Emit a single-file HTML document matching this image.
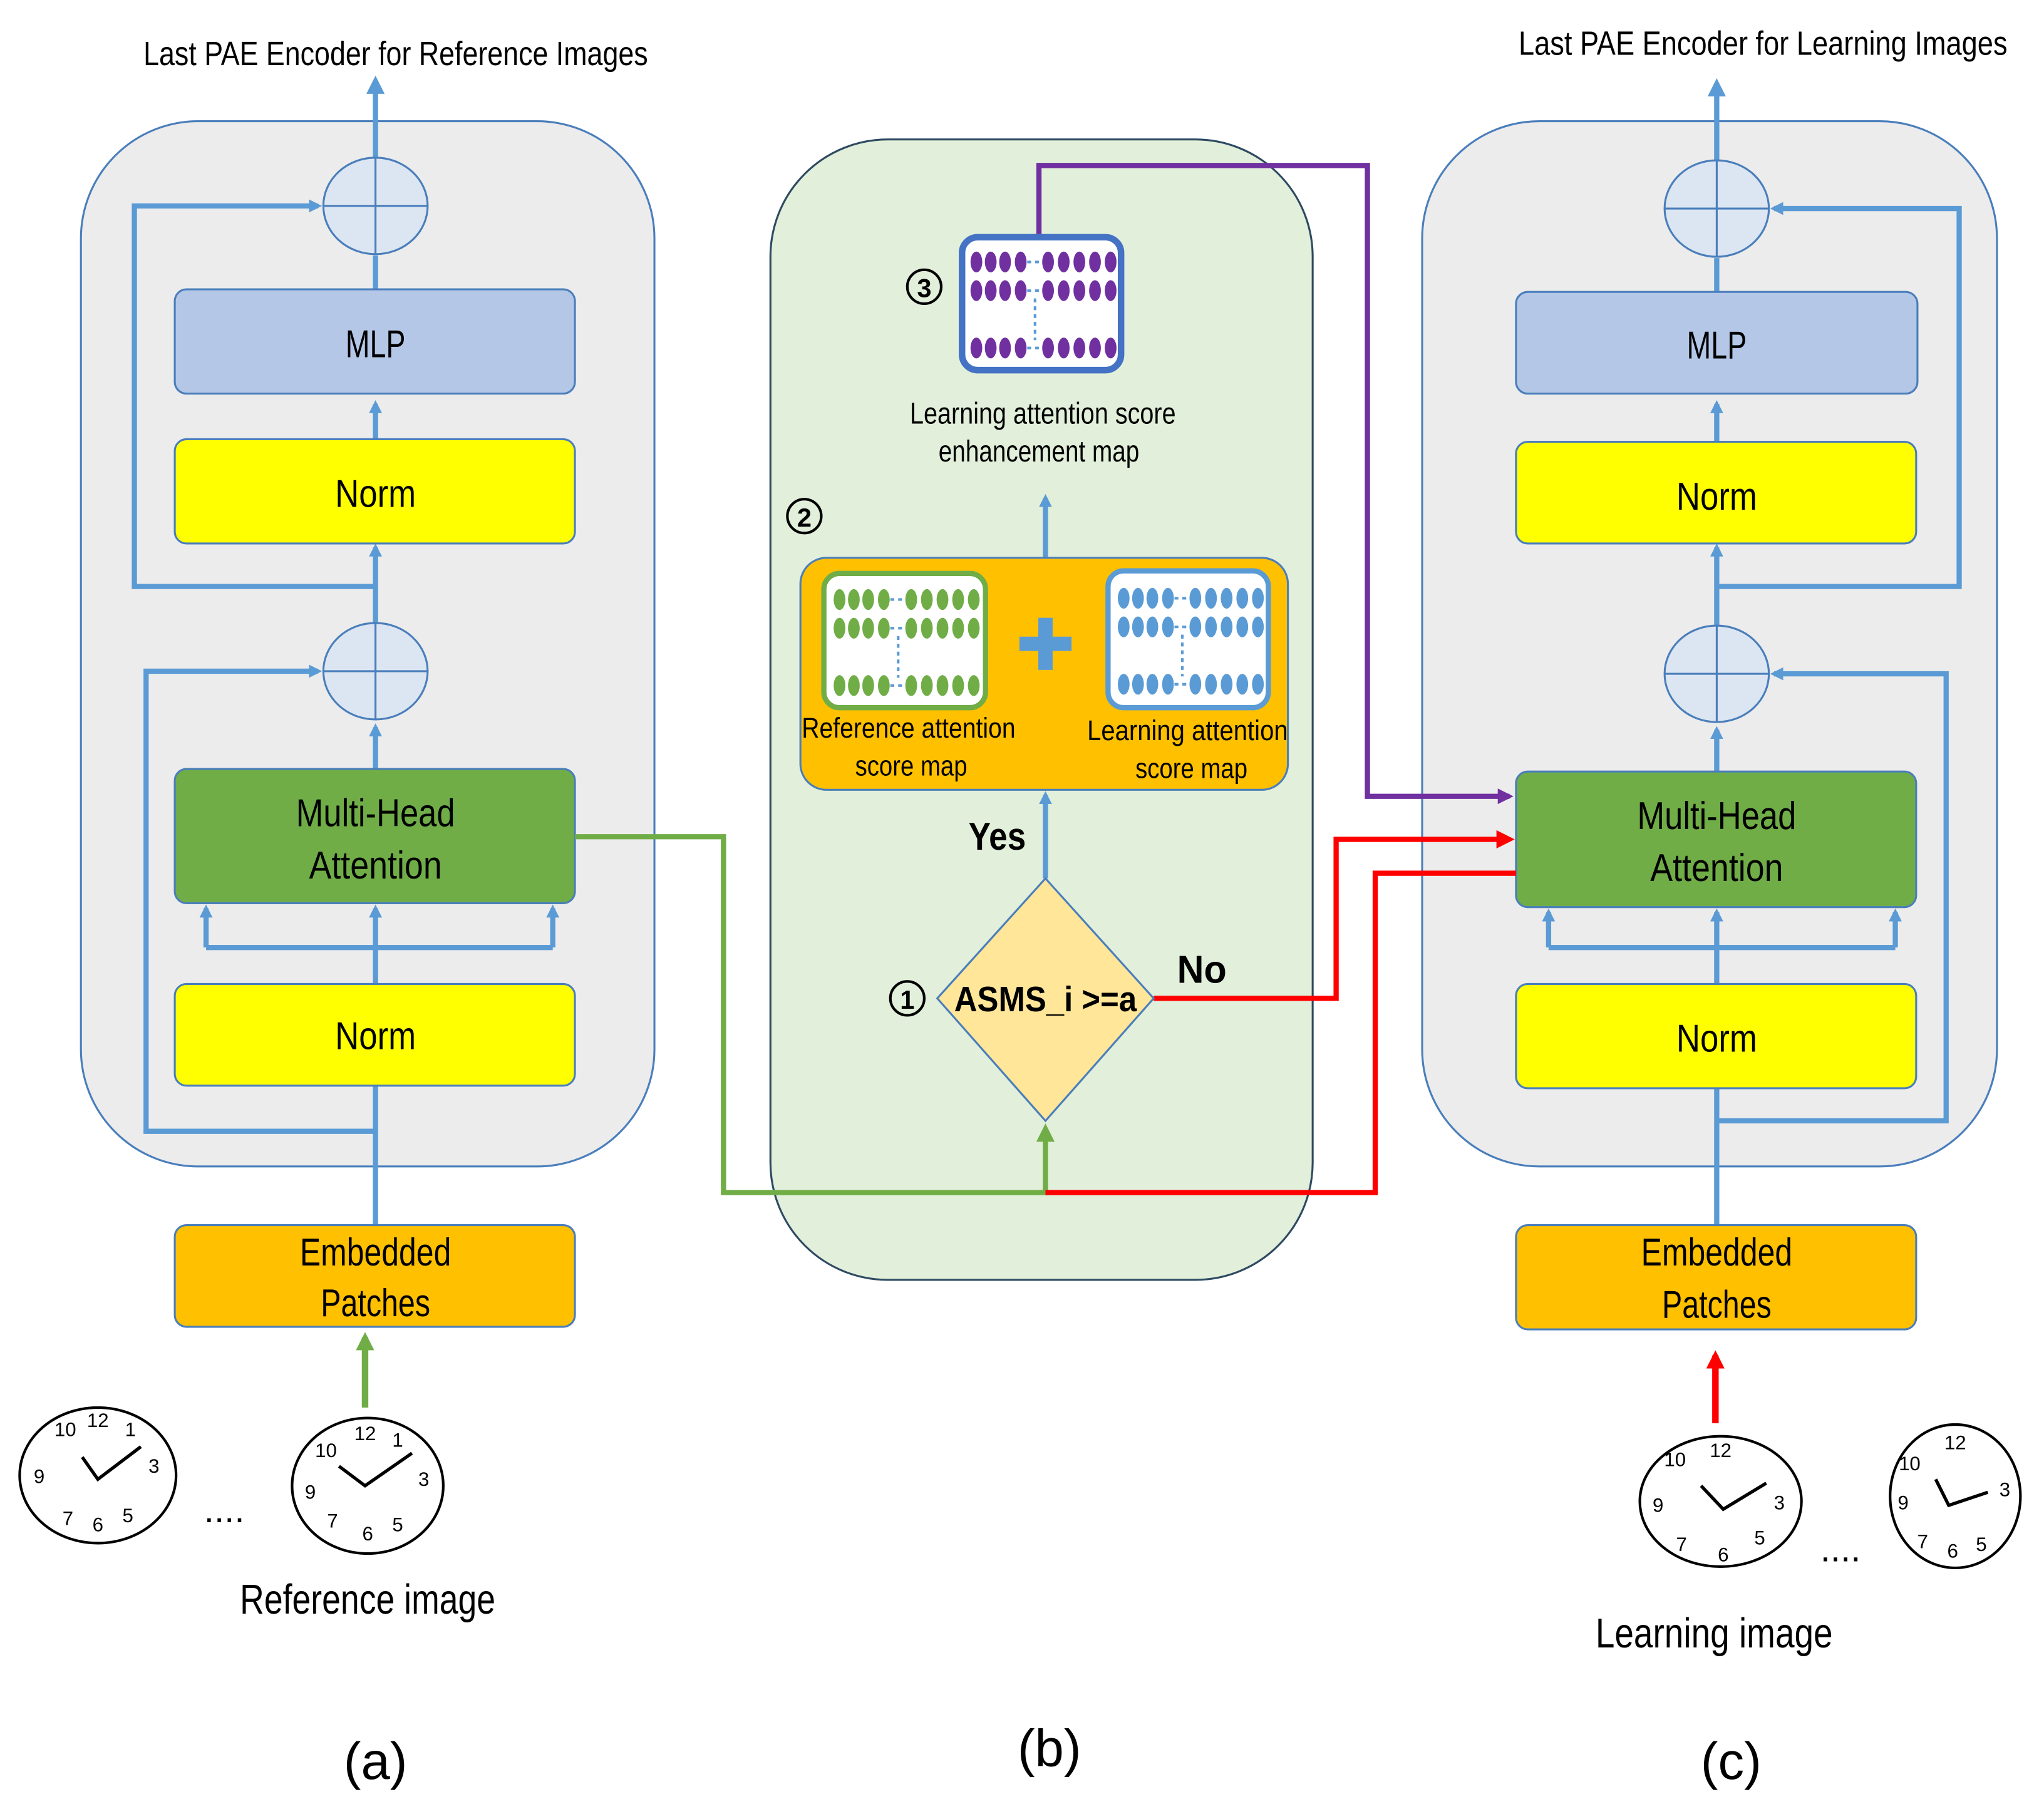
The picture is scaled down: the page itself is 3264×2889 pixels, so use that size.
<!DOCTYPE html>
<html><head><meta charset="utf-8"><style>
html,body{margin:0;padding:0;background:#fff}
svg{display:block}
text{font-family:"Liberation Sans",sans-serif}
</style></head><body>
<svg width="3264" height="2889" viewBox="0 0 1568 1388" xmlns="http://www.w3.org/2000/svg">
<defs>
<marker id="ab" markerWidth="10" markerHeight="10" refX="7" refY="5" orient="auto" markerUnits="userSpaceOnUse"><path d="M0,0 L10,5 L0,10 z" fill="#5b9bd5"/></marker>
<marker id="ab2" markerWidth="14" markerHeight="14" refX="10" refY="7" orient="auto" markerUnits="userSpaceOnUse"><path d="M0,0 L14,7 L0,14 z" fill="#5b9bd5"/></marker>
<marker id="ag" markerWidth="14" markerHeight="14" refX="10" refY="7" orient="auto" markerUnits="userSpaceOnUse"><path d="M0,0 L14,7 L0,14 z" fill="#70ad47"/></marker>
<marker id="ar" markerWidth="14" markerHeight="14" refX="10" refY="7" orient="auto" markerUnits="userSpaceOnUse"><path d="M0,0 L14,7 L0,14 z" fill="#ff0000"/></marker>
<marker id="ap" markerWidth="12" markerHeight="12" refX="9" refY="6" orient="auto" markerUnits="userSpaceOnUse"><path d="M0,0 L12,6 L0,12 z" fill="#7030a0"/></marker>
<symbol id="dots" viewBox="0 0 124 104" width="124" height="104">
<g>
<ellipse cx="12" cy="20" rx="4.5" ry="8"/><ellipse cx="23" cy="20" rx="4.5" ry="8"/><ellipse cx="34" cy="20" rx="4.5" ry="8"/><ellipse cx="46" cy="20" rx="4.5" ry="8"/>
<ellipse cx="67" cy="20" rx="4.5" ry="8"/><ellipse cx="79" cy="20" rx="4.5" ry="8"/><ellipse cx="91" cy="20" rx="4.5" ry="8"/><ellipse cx="103" cy="20" rx="4.5" ry="8"/><ellipse cx="115" cy="20" rx="4.5" ry="8"/>
<ellipse cx="12" cy="42" rx="4.5" ry="8"/><ellipse cx="23" cy="42" rx="4.5" ry="8"/><ellipse cx="34" cy="42" rx="4.5" ry="8"/><ellipse cx="46" cy="42" rx="4.5" ry="8"/>
<ellipse cx="67" cy="42" rx="4.5" ry="8"/><ellipse cx="79" cy="42" rx="4.5" ry="8"/><ellipse cx="91" cy="42" rx="4.5" ry="8"/><ellipse cx="103" cy="42" rx="4.5" ry="8"/><ellipse cx="115" cy="42" rx="4.5" ry="8"/>
<ellipse cx="12" cy="86" rx="4.5" ry="8"/><ellipse cx="23" cy="86" rx="4.5" ry="8"/><ellipse cx="34" cy="86" rx="4.5" ry="8"/><ellipse cx="46" cy="86" rx="4.5" ry="8"/>
<ellipse cx="67" cy="86" rx="4.5" ry="8"/><ellipse cx="79" cy="86" rx="4.5" ry="8"/><ellipse cx="91" cy="86" rx="4.5" ry="8"/><ellipse cx="103" cy="86" rx="4.5" ry="8"/><ellipse cx="115" cy="86" rx="4.5" ry="8"/>
</g>
<g stroke="#5b9bd5" stroke-width="2" stroke-dasharray="3,3"><path d="M51,20 H62 M51,42 H62 M51,86 H62 M57,48 V80"/></g>
</symbol>
</defs>

<rect x="62" y="93" width="440" height="802" rx="90" fill="#ececec" stroke="#4a7ebb" stroke-width="1.5"/>
<rect x="591" y="107" width="416" height="875" rx="90" fill="#e2efda" stroke="#2e4a62" stroke-width="1.5"/>
<rect x="1091" y="93" width="441" height="802" rx="90" fill="#ececec" stroke="#4a7ebb" stroke-width="1.5"/>

<text x="110" y="50" font-size="26" textLength="387" lengthAdjust="spacingAndGlyphs">Last PAE Encoder for Reference Images</text>
<text x="1165" y="42" font-size="26" textLength="375" lengthAdjust="spacingAndGlyphs">Last PAE Encoder for Learning Images</text>

<g fill="none" stroke="#5b9bd5" stroke-width="4">
<path d="M288,122 V62" marker-end="url(#ab2)"/>
<path d="M288,222 V196"/>
<path d="M288,337 V310" marker-end="url(#ab)"/>
<path d="M288,590 V558" marker-end="url(#ab)"/>
<path d="M288,478 V420" marker-end="url(#ab)"/>
<path d="M288,450 H103 V158 H244" marker-end="url(#ab)"/>
<path d="M288,868 H112 V515 H244" marker-end="url(#ab)"/>
<path d="M288,940 V833"/>
<path d="M288,755 V697" marker-end="url(#ab)"/>
<path d="M158,727 H424"/>
<path d="M158,727 V697" marker-end="url(#ab)"/>
<path d="M424,727 V697" marker-end="url(#ab)"/>
</g>
<ellipse cx="288" cy="158" rx="40" ry="37" fill="#dce6f2" stroke="#4a7ebb" stroke-width="1.5"/>
<path d="M248,158 H328 M288,121 V195" stroke="#4a7ebb" stroke-width="1.5"/>
<ellipse cx="288" cy="515" rx="40" ry="37" fill="#dce6f2" stroke="#4a7ebb" stroke-width="1.5"/>
<path d="M248,515 H328 M288,478 V552" stroke="#4a7ebb" stroke-width="1.5"/>
<rect x="134" y="222" width="307" height="80" rx="9" fill="#b4c7e7" stroke="#4a7ebb" stroke-width="1.5"/>
<text x="288" y="274" font-size="30" text-anchor="middle" textLength="46" lengthAdjust="spacingAndGlyphs">MLP</text>
<rect x="134" y="337" width="307" height="80" rx="9" fill="#ffff00" stroke="#4a7ebb" stroke-width="1.5"/>
<text x="288" y="389" font-size="30" text-anchor="middle" textLength="62" lengthAdjust="spacingAndGlyphs">Norm</text>
<rect x="134" y="590" width="307" height="103" rx="9" fill="#70ad47" stroke="#4a7ebb" stroke-width="1.5"/>
<text x="288" y="634" font-size="30" text-anchor="middle" textLength="122" lengthAdjust="spacingAndGlyphs">Multi-Head</text>
<text x="288" y="674" font-size="30" text-anchor="middle" textLength="102" lengthAdjust="spacingAndGlyphs">Attention</text>
<rect x="134" y="755" width="307" height="78" rx="9" fill="#ffff00" stroke="#4a7ebb" stroke-width="1.5"/>
<text x="288" y="805" font-size="30" text-anchor="middle" textLength="62" lengthAdjust="spacingAndGlyphs">Norm</text>
<rect x="134" y="940" width="307" height="78" rx="9" fill="#ffc000" stroke="#4a7ebb" stroke-width="1.5"/>
<text x="288" y="971" font-size="30" text-anchor="middle" textLength="116" lengthAdjust="spacingAndGlyphs">Embedded</text>
<text x="288" y="1010" font-size="30" text-anchor="middle" textLength="84" lengthAdjust="spacingAndGlyphs">Patches</text>

<g fill="none" stroke="#5b9bd5" stroke-width="4">
<path d="M1317,124 V64" marker-end="url(#ab2)"/>
<path d="M1317,224 V198"/>
<path d="M1317,339 V310" marker-end="url(#ab)"/>
<path d="M1317,592 V560" marker-end="url(#ab)"/>
<path d="M1317,480 V420" marker-end="url(#ab)"/>
<path d="M1317,450 H1503 V160 H1361" marker-end="url(#ab)"/>
<path d="M1317,860 H1493 V517 H1361" marker-end="url(#ab)"/>
<path d="M1317,940 V835"/>
<path d="M1317,755 V700" marker-end="url(#ab)"/>
<path d="M1188,727 H1454"/>
<path d="M1188,727 V700" marker-end="url(#ab)"/>
<path d="M1454,727 V700" marker-end="url(#ab)"/>
</g>
<ellipse cx="1317" cy="160" rx="40" ry="37" fill="#dce6f2" stroke="#4a7ebb" stroke-width="1.5"/>
<path d="M1277,160 H1357 M1317,123 V197" stroke="#4a7ebb" stroke-width="1.5"/>
<ellipse cx="1317" cy="517" rx="40" ry="37" fill="#dce6f2" stroke="#4a7ebb" stroke-width="1.5"/>
<path d="M1277,517 H1357 M1317,480 V554" stroke="#4a7ebb" stroke-width="1.5"/>
<rect x="1163" y="224" width="308" height="78" rx="9" fill="#b4c7e7" stroke="#4a7ebb" stroke-width="1.5"/>
<text x="1317" y="275" font-size="30" text-anchor="middle" textLength="46" lengthAdjust="spacingAndGlyphs">MLP</text>
<rect x="1163" y="339" width="307" height="78" rx="9" fill="#ffff00" stroke="#4a7ebb" stroke-width="1.5"/>
<text x="1317" y="391" font-size="30" text-anchor="middle" textLength="62" lengthAdjust="spacingAndGlyphs">Norm</text>
<rect x="1163" y="592" width="307" height="104" rx="9" fill="#70ad47" stroke="#4a7ebb" stroke-width="1.5"/>
<text x="1317" y="636" font-size="30" text-anchor="middle" textLength="122" lengthAdjust="spacingAndGlyphs">Multi-Head</text>
<text x="1317" y="676" font-size="30" text-anchor="middle" textLength="102" lengthAdjust="spacingAndGlyphs">Attention</text>
<rect x="1163" y="755" width="307" height="80" rx="9" fill="#ffff00" stroke="#4a7ebb" stroke-width="1.5"/>
<text x="1317" y="807" font-size="30" text-anchor="middle" textLength="62" lengthAdjust="spacingAndGlyphs">Norm</text>
<rect x="1163" y="940" width="307" height="80" rx="9" fill="#ffc000" stroke="#4a7ebb" stroke-width="1.5"/>
<text x="1317" y="971" font-size="30" text-anchor="middle" textLength="116" lengthAdjust="spacingAndGlyphs">Embedded</text>
<text x="1317" y="1011" font-size="30" text-anchor="middle" textLength="84" lengthAdjust="spacingAndGlyphs">Patches</text>

<g fill="none" stroke-width="4">
<path d="M441,642 H555 V915 H802 V866" stroke="#70ad47" marker-end="url(#ag)"/>
<path d="M802,915 H1055 V670 H1163" stroke="#ff0000"/>
<path d="M885,766 H1025 V644 H1158" stroke="#ff0000" marker-end="url(#ar)"/>
<path d="M797,181 V127 H1049 V611 H1158" stroke="#7030a0" marker-end="url(#ap)"/>
<path d="M802,674 V610" stroke="#5b9bd5" marker-end="url(#ab)"/>
<path d="M802,428 V382" stroke="#5b9bd5" marker-end="url(#ab)"/>
<path d="M280,1080 V1026" stroke="#70ad47" stroke-width="5" marker-end="url(#ag)"/>
<path d="M1316,1092 V1040" stroke="#ff0000" stroke-width="5" marker-end="url(#ar)"/>
</g>
<polygon points="802,674 885,766 802,860 719,766" fill="#ffe699" stroke="#4a7ebb" stroke-width="1.5"/>
<text x="802" y="776" font-size="27" font-weight="bold" text-anchor="middle" textLength="140" lengthAdjust="spacingAndGlyphs">ASMS_i &gt;=a</text>
<circle cx="696" cy="766" r="13" fill="none" stroke="#000" stroke-width="2"/><text x="696" y="774" font-size="20" font-weight="bold" text-anchor="middle">1</text>
<text x="765" y="652" font-size="30" font-weight="bold" text-anchor="middle" textLength="44" lengthAdjust="spacingAndGlyphs">Yes</text>
<text x="922" y="754" font-size="30" font-weight="bold" text-anchor="middle" textLength="38" lengthAdjust="spacingAndGlyphs">No</text>

<rect x="614" y="428" width="374" height="178" rx="20" fill="#ffc000" stroke="#4a7ebb" stroke-width="1.5"/>
<rect x="632" y="440" width="124" height="103" rx="12" fill="#fff" stroke="#70ad47" stroke-width="4"/>
<use href="#dots" x="632" y="440" fill="#70ad47"/>
<rect x="850" y="438" width="123" height="105" rx="12" fill="#fff" stroke="#5b9bd5" stroke-width="4"/>
<use href="#dots" x="850" y="439" fill="#5b9bd5"/>
<path d="M802,474 V514 M782,494 H822" stroke="#5b9bd5" stroke-width="11"/>
<text x="697" y="566" font-size="22" text-anchor="middle" textLength="164" lengthAdjust="spacingAndGlyphs">Reference attention</text>
<text x="699" y="595" font-size="22" text-anchor="middle" textLength="86" lengthAdjust="spacingAndGlyphs">score map</text>
<text x="911" y="568" font-size="22" text-anchor="middle" textLength="154" lengthAdjust="spacingAndGlyphs">Learning attention</text>
<text x="914" y="597" font-size="22" text-anchor="middle" textLength="86" lengthAdjust="spacingAndGlyphs">score map</text>

<circle cx="617" cy="396" r="13" fill="none" stroke="#000" stroke-width="2"/><text x="617" y="404" font-size="20" font-weight="bold" text-anchor="middle">2</text>
<text x="800" y="325" font-size="23" text-anchor="middle" textLength="204" lengthAdjust="spacingAndGlyphs">Learning attention score</text>
<text x="797" y="354" font-size="23" text-anchor="middle" textLength="154" lengthAdjust="spacingAndGlyphs">enhancement map</text>
<circle cx="709" cy="220" r="13" fill="none" stroke="#000" stroke-width="2"/><text x="709" y="228" font-size="20" font-weight="bold" text-anchor="middle">3</text>
<rect x="738" y="182" width="122" height="102" rx="12" fill="#fff" stroke="#4472c4" stroke-width="5"/>
<use href="#dots" x="737" y="181" fill="#7030a0"/>

<g fill="#fff" stroke="#000" stroke-width="2">
<ellipse cx="75" cy="1132" rx="60" ry="52"/>
<ellipse cx="282" cy="1140" rx="58" ry="52"/>
<ellipse cx="1320" cy="1152" rx="62" ry="50"/>
<ellipse cx="1500" cy="1148" rx="50" ry="55"/>
</g>
<g fill="none" stroke="#000" stroke-width="2.5">
<path d="M63,1118 L75,1135 L108,1110"/>
<path d="M260,1125 L280,1140 L316,1115"/>
<path d="M1305,1140 L1322,1158 L1355,1138"/>
<path d="M1485,1135 L1495,1155 L1525,1145"/>
</g>
<g font-size="15" text-anchor="middle" fill="#000">
<text x="75" y="1095">12</text><text x="118" y="1130">3</text><text x="75" y="1175">6</text><text x="30" y="1138">9</text><text x="50" y="1102">10</text><text x="100" y="1102">1</text><text x="98" y="1168">5</text><text x="52" y="1170">7</text>
<text x="280" y="1105">12</text><text x="325" y="1140">3</text><text x="282" y="1182">6</text><text x="238" y="1150">9</text><text x="250" y="1118">10</text><text x="305" y="1110">1</text><text x="305" y="1175">5</text><text x="255" y="1172">7</text>
<text x="1320" y="1118">12</text><text x="1365" y="1158">3</text><text x="1322" y="1198">6</text><text x="1272" y="1160">9</text><text x="1285" y="1125">10</text><text x="1350" y="1185">5</text><text x="1290" y="1190">7</text>
<text x="1500" y="1112">12</text><text x="1538" y="1148">3</text><text x="1498" y="1195">6</text><text x="1460" y="1158">9</text><text x="1465" y="1128">10</text><text x="1520" y="1190">5</text><text x="1475" y="1188">7</text>
</g>
<text x="172" y="1168" font-size="28" text-anchor="middle">....</text>
<text x="1412" y="1198" font-size="28" text-anchor="middle">....</text>
<text x="282" y="1238" font-size="32" text-anchor="middle" textLength="196" lengthAdjust="spacingAndGlyphs">Reference image</text>
<text x="1315" y="1264" font-size="32" text-anchor="middle" textLength="182" lengthAdjust="spacingAndGlyphs">Learning image</text>
<text x="288" y="1365" font-size="40" text-anchor="middle">(a)</text>
<text x="805" y="1355" font-size="40" text-anchor="middle">(b)</text>
<text x="1328" y="1365" font-size="40" text-anchor="middle">(c)</text>
</svg>
</body></html>
